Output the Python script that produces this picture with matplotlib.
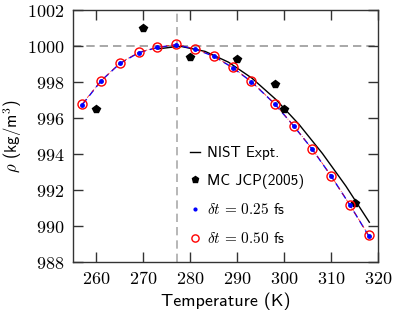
import numpy as np
import matplotlib
matplotlib.use("Agg")
import matplotlib.pyplot as plt

plt.rcParams['mathtext.fontset'] = 'cm'
plt.rcParams['axes.unicode_minus'] = False

# NIST experimental density of water
nist_T = [273.15, 277.15, 278.15, 283.15, 288.15, 293.15, 298.15, 303.15, 308.15, 313.15, 318.15]
nist_rho = [999.84, 999.97, 999.97, 999.70, 999.10, 998.21, 997.05, 995.65, 994.03, 992.22, 990.21]

# MC JCP(2005)
mc_T = [260, 270, 280, 290, 298, 300, 315]
mc_rho = [996.5, 1001.0, 999.4, 999.3, 997.9, 996.5, 991.3]

# simulations
sim_T = [257, 261, 265, 269, 273, 277, 281, 285, 289, 293, 298, 302, 306, 310, 314, 318]
rho_025 = [996.75, 998.07, 999.03, 999.63, 999.92, 1000.07, 999.83, 999.43, 998.80, 998.02,
           996.78, 995.57, 994.26, 992.78, 991.17, 989.46]
rho_050 = [996.80, 998.07, 999.05, 999.66, 999.92, 1000.10, 999.84, 999.45, 998.81, 998.03,
           996.79, 995.58, 994.27, 992.79, 991.17, 989.48]

T_max = 277.13
sans = 'cmss10'

fig = plt.figure(figsize=(3.94, 3.14), dpi=100)
ax = fig.add_axes([73/394, 1 - 262/314, 305/394, 252/314])

ax.axhline(1000, color='#999999', ls=(0, (5, 3)), lw=1.2, zorder=1)
ax.axvline(T_max, color='#aaaaaa', ls=(0, (5, 3)), lw=1.2, zorder=1)

ax.plot(nist_T, nist_rho, '-', color='black', lw=1.0, label='NIST Expt.', zorder=2)
ax.plot(mc_T, mc_rho, 'p', color='black', ms=6, ls='none', label='MC JCP(2005)', zorder=4)
ax.plot(sim_T, rho_025, color='blue', ls=(0, (5, 3)), lw=1.0, zorder=3)
ax.plot(sim_T, rho_050, color='red', ls=(0, (4, 2, 1, 2)), lw=0.6, alpha=0.8, zorder=3)
ax.plot(sim_T, rho_025, 'o', color='blue', ms=2.5, ls='none', label=r'$\delta t\,=\,0.25$ fs', zorder=5)
ax.plot(sim_T, rho_050, 'o', mfc='none', mec='red', mew=1.0, ms=6.5, ls='none',
        label=r'$\delta t\,=\,0.50$ fs', zorder=5)

ax.set_xlim(255, 320)
ax.set_ylim(988, 1002)
ax.set_xticks(np.arange(260, 321, 10))
ax.set_yticks(np.arange(988, 1003, 2))
ax.set_xticklabels([r'$%d$' % v for v in range(260, 321, 10)])
ax.set_yticklabels([r'$%d$' % v for v in range(988, 1003, 2)])
ax.tick_params(direction='in', length=7, width=1, top=True, right=True, labelsize=13, pad=6, color='#333333')
for s in ax.spines.values():
    s.set_linewidth(1.0)
    s.set_color('#333333')

ax.set_xlabel('Temperature (K)', fontsize=13, family=sans, labelpad=3)
ax.set_ylabel(r'$\rho$ (kg/m$^3$)', fontsize=12, family=sans)
ax.yaxis.set_label_coords(-0.16, 0.5)

ax.legend(loc='center left', bbox_to_anchor=(0.365, 0.262), frameon=False,
          prop={'family': sans, 'size': 11},
          handlelength=0.6, handletextpad=0.5, labelspacing=0.9, borderaxespad=0, markerscale=0.8)

fig.savefig('out.png', dpi=100)
